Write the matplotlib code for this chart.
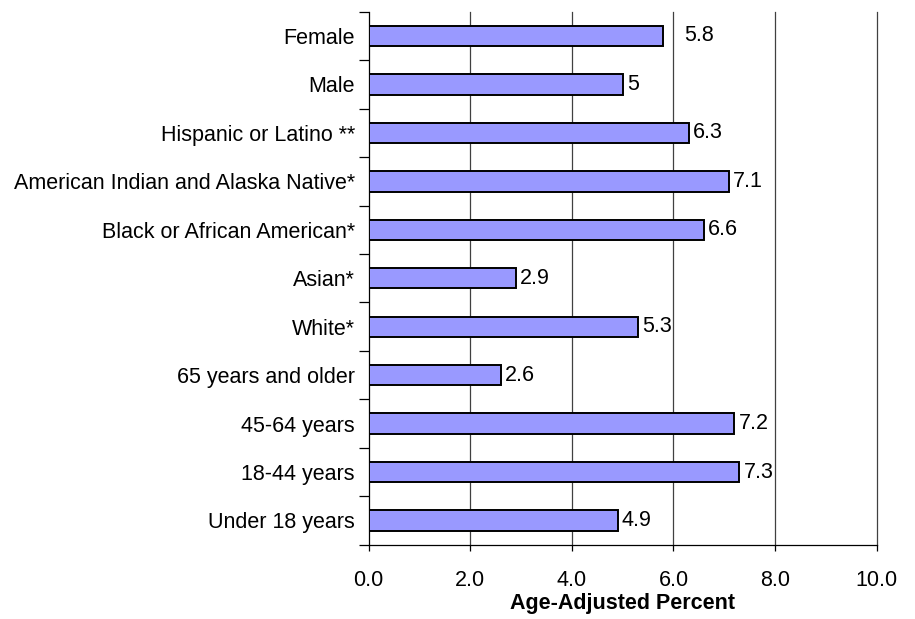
import matplotlib.pyplot as plt
import numpy as np

plt.rcParams['font.family'] = ['Liberation Sans', 'DejaVu Sans']

categories = ['Female', 'Male', 'Hispanic or Latino **',
              'American Indian and Alaska Native*', 'Black or African American*',
              'Asian*', 'White*', '65 years and older', '45-64 years',
              '18-44 years', 'Under 18 years']
values = [5.8, 5.0, 6.3, 7.1, 6.6, 2.9, 5.3, 2.6, 7.2, 7.3, 4.9]
value_labels = ['5.8', '5', '6.3', '7.1', '6.6', '2.9', '5.3', '2.6', '7.2', '7.3', '4.9']

fig = plt.figure(figsize=(9.15, 6.19), dpi=100)
ax = fig.add_axes([0.403, 0.120, 0.555, 0.861])

y = np.arange(len(categories))[::-1]
ax.barh(y, values, height=0.42, color='#9999FF', edgecolor='black', linewidth=1.4, zorder=3)

for yi, v, lab in zip(y, values, value_labels):
    # the top label sits a little further out from its bar
    off = 0.42 if lab == '5.8' else 0.08
    ax.text(v + off, yi, lab, va='center', ha='left', fontsize=15.5)

ax.set_xlim(0, 10)
ax.set_ylim(-0.5, len(categories) - 0.5)
xt = np.arange(0, 10.1, 2)
ax.set_xticks(xt)
ax.set_xticklabels([f'{t:.1f}' for t in xt], fontsize=15.5)
for t in xt[1:]:
    ax.axvline(t, color='#404040', linewidth=0.9, zorder=0, clip_on=False)
ax.tick_params(axis='x', length=4, width=0.9, pad=14)

ax.set_yticks(y)
ax.set_yticklabels(categories, fontsize=15.5)
ax.set_yticks(np.arange(-0.5, len(categories), 1), minor=True)
ax.tick_params(axis='y', which='major', length=0, pad=10)
ax.tick_params(axis='y', which='minor', length=7, width=0.9)

for s in ['top', 'right']:
    ax.spines[s].set_visible(False)
for s in ['left', 'bottom']:
    ax.spines[s].set_linewidth(0.9)

ax.set_xlabel('Age-Adjusted Percent', fontsize=15.5, fontweight='bold', labelpad=2)

fig.savefig('out.png', dpi=100)
